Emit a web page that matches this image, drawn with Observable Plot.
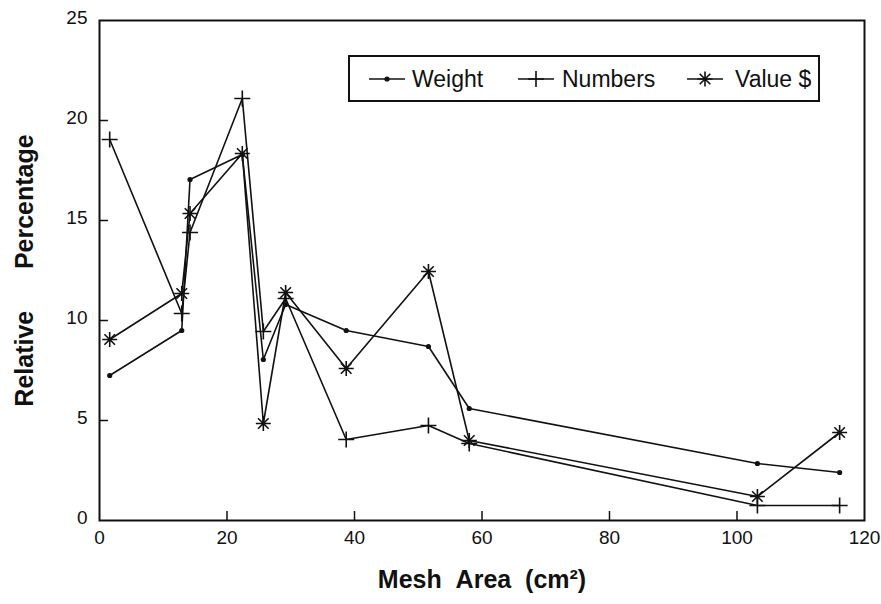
<!DOCTYPE html>
<html><head><meta charset="utf-8">
<script src="https://cdn.jsdelivr.net/npm/d3@7"></script>
<script src="https://cdn.jsdelivr.net/npm/@observablehq/plot@0.6"></script>
<style>
body{margin:0;background:#fff;font-family:"Liberation Sans",Arial,sans-serif;}
#wrap{position:relative;width:881px;height:604px;}
#legend{position:absolute;left:348px;top:55px;width:472px;height:47px;border:2px solid #111;box-sizing:border-box;background:#fff;}
#legend .t{position:absolute;top:50%;transform:translateY(-50%);font-size:23px;color:#111;white-space:nowrap;}
#legend svg{position:absolute;top:50%;transform:translateY(-50%);overflow:visible;}
</style></head><body><div id="wrap"></div>
<script>
const meshArea = [1.6, 12.9, 14.2, 22.4, 25.7, 29.2, 38.7, 51.6, 58.0, 103.2, 116.1];
const weight   = [7.25, 9.5, 17.05, 18.3, 8.05, 10.8, 9.5, 8.7, 5.6, 2.85, 2.4];
const numbers  = [19.05, 10.35, 14.4, 21.1, 9.45, 11.1, 4.05, 4.75, 3.85, 0.75, 0.75];
const value    = [9.05, 11.35, 15.35, 18.35, 4.85, 11.4, 7.6, 12.45, 4.0, 1.2, 4.4];
const seriesNames = ["Weight", "Numbers", "Value $"];
const xTicks = [0, 20, 40, 60, 80, 100, 120];
const yTicks = [0, 5, 10, 15, 20, 25];

const plusSym = {draw(ctx, size){const r=Math.sqrt(size/Math.PI);ctx.moveTo(-r,0);ctx.lineTo(r,0);ctx.moveTo(0,-r);ctx.lineTo(0,r);}};
const starSym = {draw(ctx, size){const r=Math.sqrt(size/Math.PI);const d=r*Math.SQRT1_2;
  ctx.moveTo(-r,0);ctx.lineTo(r,0);ctx.moveTo(0,-r);ctx.lineTo(0,r);
  ctx.moveTo(-d,-d);ctx.lineTo(d,d);ctx.moveTo(-d,d);ctx.lineTo(d,-d);}};

const rows = (ys, s) => meshArea.map((x, i) => ({x, y: ys[i], s}));
const wRows = rows(weight, seriesNames[0]);
const nRows = rows(numbers, seriesNames[1]);
const vRows = rows(value, seriesNames[2]);

const innerX = xTicks.slice(1, -1);
const innerY = yTicks.slice(1, -1);

const chart = Plot.plot({
  width: 881, height: 604,
  marginLeft: 99, marginRight: 17, marginTop: 20, marginBottom: 84,
  style: {fontFamily: '"Liberation Sans", Arial, sans-serif', fontSize: "19px", color: "#111", background: "#fff"},
  x: {domain: [0, 120]},
  y: {domain: [0, 25]},
  marks: [
    Plot.ruleX(innerX, {x: d => d, y1: 0, y2: 0.45, stroke: "#111", strokeWidth: 1.5}),
    Plot.ruleY(innerY, {y: d => d, x1: 0, x2: 1.4, stroke: "#111", strokeWidth: 1.5}),
    Plot.axisX(xTicks, {tickSize: 0, tickPadding: 10, label: "Mesh\u00a0\u00a0Area\u00a0\u00a0(cm²)", labelArrow: "none", labelAnchor: "center", labelOffset: 67, fontSize: 19}),
    Plot.axisY(yTicks, {tickSize: 0, tickPadding: 12, dy: -3, label: "Relative\u00a0\u00a0\u00a0\u00a0\u00a0\u00a0Percentage", labelArrow: "none", labelAnchor: "center", labelOffset: 84, fontSize: 19}),
    Plot.line(wRows, {x: "x", y: "y", stroke: "#111", strokeWidth: 1.6}),
    Plot.line(nRows, {x: "x", y: "y", stroke: "#111", strokeWidth: 1.6}),
    Plot.line(vRows, {x: "x", y: "y", stroke: "#111", strokeWidth: 1.6}),
    Plot.dot(wRows, {x: "x", y: "y", r: 2.6, fill: "#111", stroke: "none"}),
    Plot.dot(nRows, {x: "x", y: "y", r: 8, symbol: plusSym, fill: "none", stroke: "#111", strokeWidth: 1.6}),
    Plot.dot(vRows, {x: "x", y: "y", r: 7.5, symbol: starSym, fill: "none", stroke: "#111", strokeWidth: 1.6}),
    Plot.frame({stroke: "#111", strokeWidth: 2})
  ]
});
chart.querySelectorAll('g[aria-label="x-axis label"] text, g[aria-label="y-axis label"] text').forEach(t => {
  t.style.fontWeight = "bold"; t.style.fontSize = "25px";
});
const wrap = document.getElementById("wrap");
wrap.appendChild(chart);

const leg = document.createElement("div");
leg.id = "legend";
wrap.appendChild(leg);
const symPath = (sym, r) => { const p = d3.path(); sym.draw(p, Math.PI*r*r); return p.toString(); };
const items = [
  {name: seriesNames[0], sx: 19, tx: 62, mark: `<circle cx="18" cy="0" r="2.6" fill="#111"/>`},
  {name: seriesNames[1], sx: 168, tx: 212, mark: `<path transform="translate(18,0)" d="${symPath(plusSym, 8)}" stroke="#111" stroke-width="1.6" fill="none"/>`},
  {name: seriesNames[2], sx: 337, tx: 385, mark: `<path transform="translate(18,0)" d="${symPath(starSym, 7.5)}" stroke="#111" stroke-width="1.6" fill="none"/>`}
];
items.forEach(it => {
  leg.insertAdjacentHTML("beforeend",
    `<svg style="left:${it.sx}px" width="36" height="20" viewBox="0 -10 36 20"><line x1="0" x2="36" y1="0" y2="0" stroke="#111" stroke-width="1.6"/>${it.mark}</svg><span class="t" style="left:${it.tx}px">${it.name}</span>`);
});
</script></body></html>
